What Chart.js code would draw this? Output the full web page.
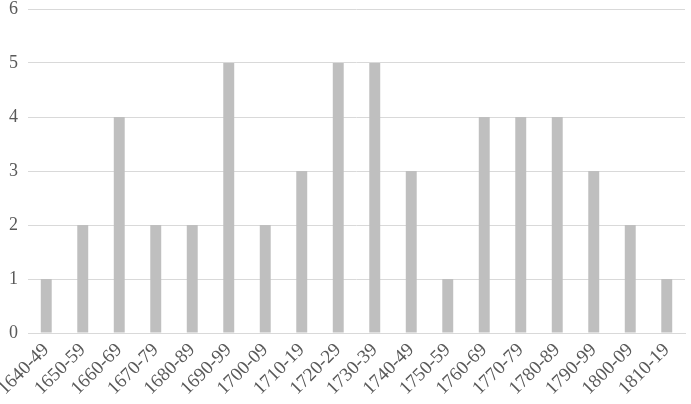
<!DOCTYPE html>
<html><head><meta charset="utf-8">
<script src="https://cdn.jsdelivr.net/npm/chart.js@4"></script>
<style>html,body{margin:0;padding:0;background:#fff;}#wrap{width:691px;height:404px;}</style>
</head><body><div id="wrap"><canvas id="c"></canvas></div>
<script>
const categories = ["1640-49","1650-59","1660-69","1670-79","1680-89","1690-99","1700-09","1710-19","1720-29","1730-39","1740-49","1750-59","1760-69","1770-79","1780-89","1790-99","1800-09","1810-19"];
const counts = [1,2,4,2,2,5,2,3,5,5,3,1,4,4,4,3,2,1];
const yTicks = [0,1,2,3,4,5,6];

new Chart(document.getElementById('c'), {
  type: 'bar',
  data: { labels: categories, datasets: [{ data: counts, backgroundColor: '#bfbfbf', barPercentage: 0.3, categoryPercentage: 1.0 }] },
  options: {
    responsive: true, maintainAspectRatio: false, animation: false,
    layout: { padding: { top: 9, right: 6, left: 0, bottom: 0 } },
    plugins: { legend: { display: false }, tooltip: { enabled: false } },
    scales: {
      x: {
        grid: { display: false },
        border: { color: '#d9d9d9', width: 1 },
        ticks: { color: '#595959', font: { family: 'Liberation Serif', size: 19 }, minRotation: 45, maxRotation: 45, padding: -2 },
        afterFit: s => { s.height = 71; s.paddingLeft = 0; s.paddingRight = 0; }
      },
      y: {
        min: 0, max: 6,
        afterBuildTicks: s => { s.ticks = yTicks.map(v => ({ value: v })); },
        grid: { color: '#d9d9d9', drawTicks: false },
        border: { display: false },
        ticks: { color: '#595959', font: { family: 'Liberation Serif', size: 18 }, padding: 10 },
        afterFit: s => { s.width = 28; s.paddingTop = 0; s.paddingBottom = 0; }
      }
    }
  }
});
</script></body></html>
